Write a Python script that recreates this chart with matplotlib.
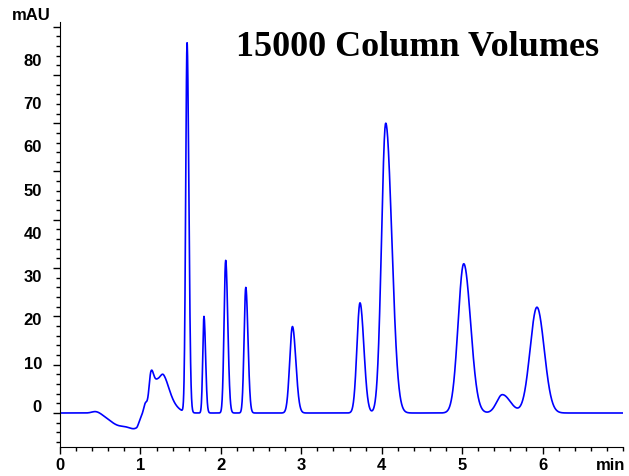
import numpy as np
import matplotlib.pyplot as plt
from matplotlib.ticker import MultipleLocator

# peak table (min, mAU, left/right widths in min)
peak_time = [0.45, 0.75, 0.95, 1.06, 1.13, 1.22, 1.29, 1.58, 1.79, 2.06,
             2.31, 2.89, 3.73, 4.05, 5.02, 5.50, 5.93]
peak_height = [0.45, -2.6, -1.9, 1.5, 5.1, 6.9, 1.9, 76.5, 20.0, 31.6,
               26.0, 17.9, 22.8, 60.0, 30.9, 3.8, 21.9]
sigma_left = [0.05, 0.13, 0.08, 0.02, 0.022, 0.08, 0.035, 0.017, 0.015, 0.02,
              0.021, 0.034, 0.038, 0.052, 0.07, 0.07, 0.085]
sigma_right = [0.06, 0.16, 0.03, 0.02, 0.03, 0.13, 0.06, 0.022, 0.02, 0.026,
               0.027, 0.042, 0.048, 0.075, 0.085, 0.10, 0.09]

y_ticks = [0, 10, 20, 30, 40, 50, 60, 70, 80]
x_ticks = [0, 1, 2, 3, 4, 5, 6]
title = "15000 Column Volumes"

t = np.linspace(0, 7.0, 3501)
signal = np.zeros_like(t)
for t0, h, sl, sr in zip(peak_time, peak_height, sigma_left, sigma_right):
    s = np.where(t < t0, sl, sr)
    signal += h * np.exp(-0.5 * ((t - t0) / s) ** 2)

fig = plt.figure(figsize=(6.29, 4.76), dpi=100)
ax = fig.add_axes([60 / 629, 29 / 476, 563 / 629, 425 / 476])
ax.plot(t, signal, color="#0000ff", lw=1.2)

ax.set_xlim(0, 7.0)
ax.set_ylim(-7.04, 80.95)
for side in ["top", "right"]:
    ax.spines[side].set_visible(False)

ax.set_xticks(x_ticks)
ax.xaxis.set_minor_locator(MultipleLocator(0.2))
ax.set_yticks(y_ticks)
ax.yaxis.set_minor_locator(MultipleLocator(2))
ax.tick_params(which="major", length=5, width=1.0)
ax.tick_params(which="minor", length=3, width=1.0)
ax.tick_params(axis="y", labelleft=False)
for lab in ax.get_xticklabels():
    lab.set_fontfamily("Liberation Sans")
    lab.set_fontweight("bold")
    lab.set_fontsize(12)
ax.tick_params(axis="x", pad=3)

# the printed y labels sit on a slightly compressed scale vs. the tick marks
def to_label(v):
    return (4.83 * v - 7) / 4.325

def from_label(L):
    return (4.325 * L + 7) / 4.83

sec = ax.secondary_yaxis("left", functions=(to_label, from_label))
sec.set_yticks(y_ticks)
sec.spines["left"].set_visible(False)
sec.tick_params(length=0, pad=13)
for lab in sec.get_yticklabels():
    lab.set_fontfamily("Liberation Sans")
    lab.set_fontweight("bold")
    lab.set_fontsize(12)

fig.text(31 / 629, 1 - 15 / 476, "mAU", ha="center", va="center",
         family="Liberation Sans", weight="bold", fontsize=12)
fig.text(611 / 629, 1 - 466 / 476, "min", ha="center", va="center",
         family="Liberation Sans", weight="bold", fontsize=12)
fig.text(418 / 629, 1 - 48 / 476, title, ha="center", va="center",
         family="Liberation Serif", weight="bold", fontsize=26)

fig.savefig("out.png", dpi=100)
